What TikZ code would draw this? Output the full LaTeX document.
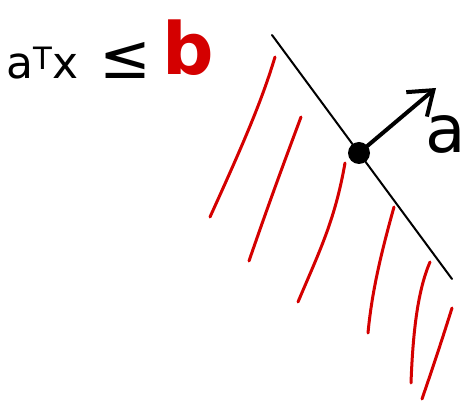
\documentclass[tikz,border=0pt]{standalone}
\usepackage{fontspec}
\setmainfont{DejaVu Sans}
\usetikzlibrary{arrows.meta}
\definecolor{hatchred}{RGB}{212,0,0}
\begin{document}
\begin{tikzpicture}[x=1pt,y=-1pt,
  hatchline/.style={hatchred, line width=3pt, line cap=round},
  boundary/.style={black, line width=2pt, line cap=round},
  normalarrow/.style={black, line width=4pt, line cap=round, -{Straight Barb[length=22pt,width=32pt,line width=4pt]}},
  bigtext/.style={inner sep=0pt, text=black}]
\useasboundingbox (0,0) rectangle (467,403);
% inequality text
\node[bigtext, anchor=base west, font=\fontsize{44}{44}\selectfont] (lhs) at (6,79) {a\textsuperscript{T}x};
\node[bigtext, font=\fontsize{62}{62}\selectfont] (leq) at (125,60) {≤};
\node[bigtext, text=hatchred, font=\bfseries\fontsize{72}{72}\selectfont] (b) at (188,48) {b};
% boundary line
\coordinate (p1) at (272,35);
\coordinate (p2) at (452,279);
\draw[boundary] (p1) -- (p2);
% point and normal
\node[circle, fill=black, minimum width=22pt, minimum height=19pt, inner sep=0pt] (dot) at (359,153) {};
\coordinate (tip) at (436,88);
\draw[normalarrow] (dot.center) -- (tip);
\node[bigtext, font=\fontsize{66}{66}\selectfont] (alab) at (446,134) {a};
% hatching
\draw[hatchline] (275,57) .. controls (262,100) and (245,140) .. (210,217);
\draw[hatchline] (301,117) .. controls (285,160) and (270,200) .. (249,261);
\draw[hatchline] (345,163) .. controls (335,220) and (320,250) .. (298,302);
\draw[hatchline] (394,207) .. controls (382,250) and (372,290) .. (368,333);
\draw[hatchline] (430,262) .. controls (418,290) and (413,330) .. (411,383);
\draw[hatchline] (452,308) .. controls (442,340) and (432,370) .. (422,399);
\end{tikzpicture}
\end{document}
